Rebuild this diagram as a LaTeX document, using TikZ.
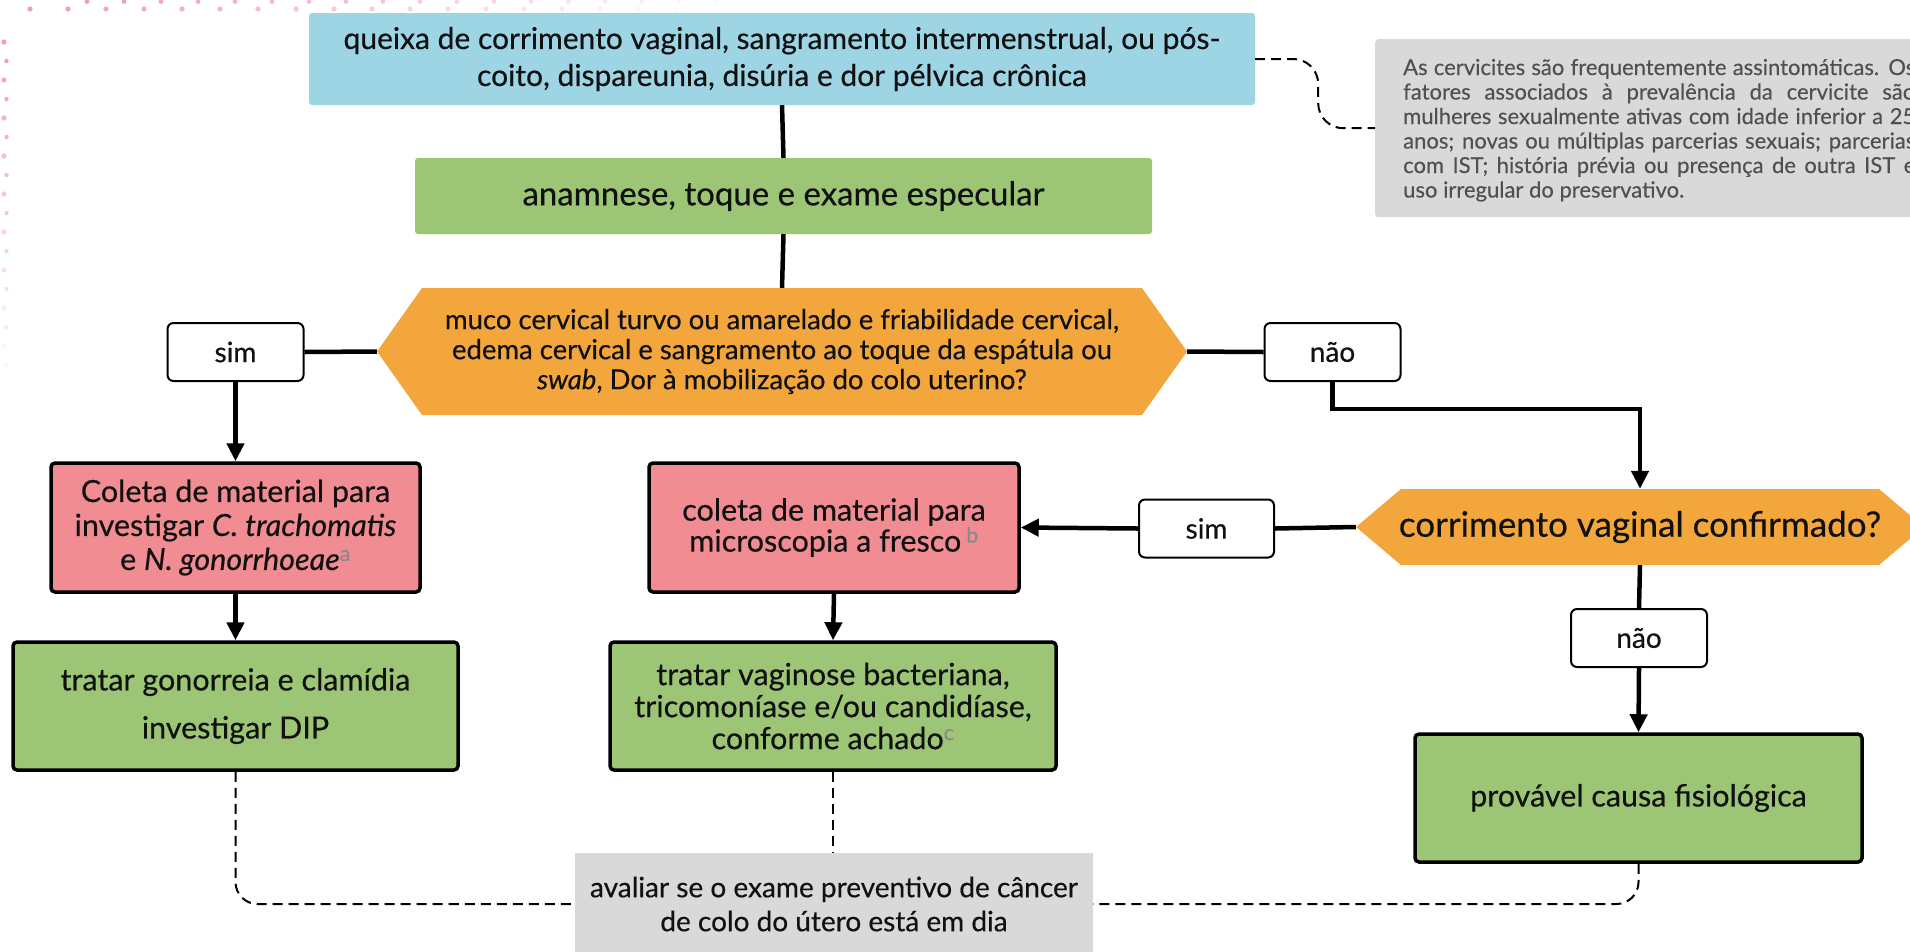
\documentclass[tikz,border=0pt]{standalone}
\usepackage{fontspec}
\setmainfont{Lato}[FakeBold=0.45]
\newfontfamily\infofont{Lato}[FakeBold=0.25]
\usetikzlibrary{arrows.meta,calc}
\definecolor{cblue}{HTML}{9ED5E5}
\definecolor{cgreen}{HTML}{9CC675}
\definecolor{corange}{HTML}{F3A63B}
\definecolor{cpink}{HTML}{F28C93}
\definecolor{cgrey}{HTML}{D9D9D9}
\definecolor{ctext}{HTML}{111111}
\definecolor{cinfo}{HTML}{505050}
\definecolor{csup}{HTML}{8A8A8A}
\definecolor{cdot}{HTML}{F39AC2}
\newcommand\fsQ{\fontsize{30}{37}\selectfont}
\newcommand\fsAn{\fontsize{33}{37}\selectfont}
\newcommand\fsH{\fontsize{27.5}{30}\selectfont}
\newcommand\fsB{\fontsize{30.5}{34}\selectfont}
\newcommand\fsL{\fontsize{28}{30}\selectfont}
\newcommand\fsHb{\fontsize{35}{37}\selectfont}
\newcommand\fsG{\fontsize{28}{34}\selectfont}
\newcommand\fsI{\infofont\fontsize{22}{24.5}\selectfont}
\newcommand\supmark[1]{\textsuperscript{\color{csup}#1}}
\newcommand\jline[1]{\makebox[512pt][s]{#1}}
\tikzset{
  base/.style={inner sep=0pt, align=center, text=ctext},
  plainbox/.style={base, rounded corners=3pt},
  bluebox/.style={plainbox, fill=cblue, font=\fsQ},
  topgreen/.style={plainbox, fill=cgreen, font=\fsAn},
  bordbox/.style={base, draw=black, line width=3.5pt, rounded corners=4pt, font=\fsB},
  pinkbox/.style={bordbox, fill=cpink},
  greenbox/.style={bordbox, fill=cgreen},
  labelbox/.style={base, draw=black, line width=2pt, fill=white, rounded corners=6pt,
    minimum width=136pt, minimum height=58pt, font=\fsL},
  greybox/.style={base, fill=cgrey, font=\fsG},
  hexa/.style={base, draw=none,
    path picture={\fill[corange]
      ([xshift=45pt]path picture bounding box.north west) --
      ([xshift=-45pt]path picture bounding box.north east) --
      (path picture bounding box.east) --
      ([xshift=-45pt]path picture bounding box.south east) --
      ([xshift=45pt]path picture bounding box.south west) --
      (path picture bounding box.west) -- cycle;}},
  conn/.style={line width=4.5pt, draw=black},
  arr/.style={conn, -{Triangle[length=18pt,width=17pt]}},
  dashconn/.style={draw=black, line width=2pt, dash pattern=on 10pt off 6pt}
}
\begin{document}
\begin{tikzpicture}[x=1pt,y=-1pt]
\useasboundingbox (0,0) rectangle (1910,951);
\fill[white] (0,0) rectangle (1910,951);
\begin{scope}
\clip (0,0) rectangle (1910,951);

% decorative pink dots
\foreach \i [evaluate=\i as \op using {max(0,1-\i/18)}] in {0,...,17}
  {\fill[cdot, opacity=\op] ({30+38*\i},9) circle (2.6);
   \fill[cdot, opacity=\op] ({87+37*\i},1.5) circle (2.4);}
\foreach \i [evaluate=\i as \op using {max(0,1-\i/9)}] in {0,...,8}
  {\fill[cdot, opacity=\op] (4,{42+38*\i}) circle (2.6);
   \fill[cdot, opacity=\op] (6.5,{61+38*\i}) circle (2.2);}

% nodes
\node[bluebox, minimum width=946pt, minimum height=92pt] (queixa) at (782,59)
  {queixa de corrimento vaginal, sangramento intermenstrual, ou pós-\\coito, dispareunia, disúria e dor pélvica crônica};
\node[topgreen, minimum width=737pt, minimum height=76pt] (anam) at (783.5,196)
  {anamnese, toque e exame especular};
\node[hexa, font=\fsH, minimum width=810pt, minimum height=127pt] (hex1) at (782,351.5)
  {muco cervical turvo ou amarelado e friabilidade cervical,\\edema cervical e sangramento ao toque da espátula ou\\\textit{swab}, Dor à mobilização do colo uterino?};
\node[labelbox] (sim1) at (235.5,352) {sim};
\node[labelbox] (nao1) at (1332.5,352) {não};
\node[pinkbox, minimum width=369pt, minimum height=129pt] (pink1) at (235.5,527.5)
  {Coleta de material para\\investigar \textit{C. trachomatis}\\e \textit{N. gonorrhoeae}\supmark{a}};
\node[greenbox, minimum width=445pt, minimum height=128pt] (green1) at (235.5,706)
  {tratar gonorreia e clamídia\\[14pt]investigar DIP};
\node[pinkbox, minimum width=370pt, minimum height=129pt] (pink2) at (834,527.5)
  {coleta de material para\\[-3pt]microscopia a fresco\,\supmark{b}};
\node[greenbox, minimum width=446pt, minimum height=128pt] (green2) at (833,706)
  {tratar vaginose bacteriana,\\[-2pt]tricomoníase e/ou candidíase,\\[-2pt]conforme achado\supmark{c}};
\node[labelbox, minimum width=135pt] (sim2) at (1206.5,528.5) {sim};
\node[hexa, font=\fsHb, minimum width=568pt, minimum height=76pt] (hex2) at (1640,527)
  {corrimento vaginal confirmado?};
\node[labelbox] (nao2) at (1639,638) {não};
\node[greenbox, minimum width=447pt, minimum height=128pt] (prov) at (1638.5,798)
  {provável causa fisiológica};
\node[greybox, minimum width=518pt, minimum height=102pt] (prev) at (834,904)
  {avaliar se o exame preventivo de câncer\\de colo do útero está em dia};
\node[base, fill=cgrey, rounded corners=3pt, anchor=north west, align=left,
      text=cinfo, font=\fsI, inner xsep=28pt, inner ysep=0pt,
      minimum height=178pt, text depth=0pt] (info) at (1375,39)
  {\jline{As cervicites são frequentemente assintomáticas. Os}\\
   \jline{fatores associados à prevalência da cervicite são}\\
   \jline{mulheres sexualmente ativas com idade inferior a 25}\\
   \jline{anos; novas ou múltiplas parcerias sexuais; parcerias}\\
   \jline{com IST; história prévia ou presença de outra IST e}\\
   uso irregular do preservativo.};

% solid connectors
\draw[conn] (queixa.south) -- (anam.north);
\draw[conn] (anam.south) -- (hex1.north);
\draw[conn] (sim1.east) -- (hex1.west);
\draw[conn] (hex1.east) -- (nao1.west);
\draw[arr] (sim1.south) -- (pink1.north);
\draw[arr] (pink1.south) -- (green1.north);
\draw[arr] (pink2.south) -- (green2.north);
\draw[arr] (nao1.south) -- ++(0,27) -| (hex2.north);
\draw[conn] (hex2.west) -- (sim2.east);
\draw[arr] (sim2.west) -- (pink2.east);
\draw[conn] (hex2.south) -- (nao2.north);
\draw[arr] (nao2.south) -- (prov.north);

% dashed connectors
\draw[dashconn, rounded corners=25pt] (queixa.east) -- ++(63,0) |- (info.west);
\draw[dashconn, rounded corners=22pt] (green1.south) |- (prev.west);
\draw[dashconn] (green2.south) -- (green2.south |- prev.north);
\draw[dashconn, rounded corners=22pt] (prov.south) |- (prev.east);
\end{scope}
\end{tikzpicture}
\end{document}
